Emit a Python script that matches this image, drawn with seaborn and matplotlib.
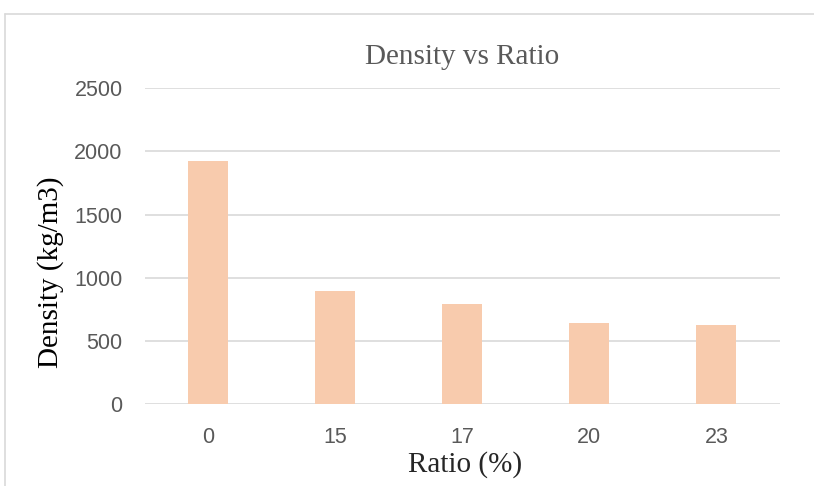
import matplotlib
matplotlib.use('Agg')
import matplotlib.pyplot as plt
import seaborn as sns
import pandas as pd
from matplotlib.lines import Line2D

# 数据
ratios = ['0', '15', '17', '20', '23']
density = [1925, 895, 795, 640, 630]

df = pd.DataFrame({'Ratio': ratios, 'Density': density})

sns.set_style('white')
plt.rcParams['font.family'] = ['Liberation Sans', 'DejaVu Sans']

fig = plt.figure(figsize=(8.14, 4.86), dpi=100)
ax = fig.add_axes([0.178, 0.168, 0.780, 0.651])

sns.barplot(data=df, x='Ratio', y='Density', color='#F8CBAD',
            saturation=1, width=0.315, linewidth=0, ax=ax, zorder=3)

ax.set_ylim(0, 2500)
ax.set_yticks([0, 500, 1000, 1500, 2000, 2500])
ax.set_xlim(-0.5, 4.5)
ax.yaxis.grid(True, color='#D9D9D9', linewidth=1.2, zorder=0)
ax.set_axisbelow(True)
for s in ax.spines.values():
    s.set_visible(False)
ax.tick_params(axis='both', length=0, labelsize=15.5, colors='#595959')
ax.tick_params(axis='y', pad=16)
ax.tick_params(axis='x', pad=16)

serif = ['Liberation Serif', 'DejaVu Serif']
ax.set_title('Density vs Ratio', fontsize=21, color='#595959', family=serif, pad=17)
ax.set_xlabel('Ratio (%)', fontsize=21, color='#262626', family=serif)
ax.set_ylabel('Density (kg/m3)', fontsize=21, color='#000000', family=serif)
ax.xaxis.set_label_coords(0.505, -0.148)
ax.yaxis.set_label_coords(-0.127, 0.418)

# 外框（上、左）
fig.add_artist(Line2D([5 / 814, 1], [1 - 14 / 486, 1 - 14 / 486], color='#D9D9D9', linewidth=1.2))
fig.add_artist(Line2D([5 / 814, 5 / 814], [0, 1 - 14 / 486], color='#D9D9D9', linewidth=1.2))

plt.savefig('out.png', dpi=100)
